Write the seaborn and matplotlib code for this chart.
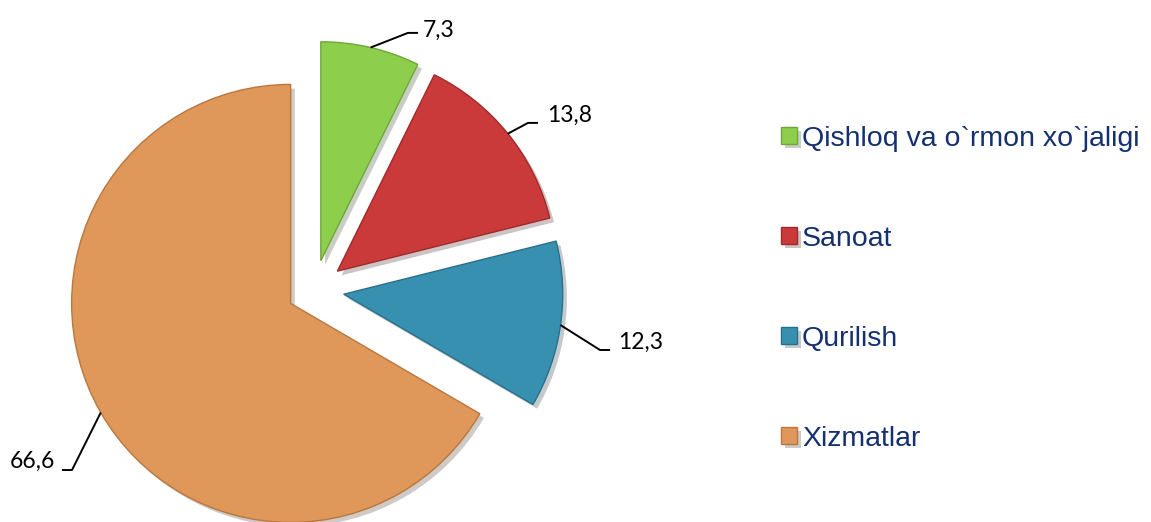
import numpy as np
import seaborn as sns
import matplotlib.pyplot as plt
from matplotlib import patheffects

# Sector shares (%)
categories = ['Qishloq va o`rmon xo`jaligi', 'Sanoat', 'Qurilish', 'Xizmatlar']
shares = [7.3, 13.8, 12.3, 66.6]
value_labels = ['7,3', '13,8', '12,3', '66,6']

slice_colors = ['#8DCF4C', '#CB3A3B', '#3890B1', '#E0975A']
edge_colors = ['#6FA836', '#9E2A2B', '#2A6F8A', '#B8773F']
explode = [0.137, 0.137, 0.137, 0.123]

# where the leader line bends and where the number sits (pie radius = 1)
elbows = [(0.429, 1.174), (0.977, 0.763), (1.306, -0.274), (-1.105, -0.822)]
text_pos = [(0.498, 1.187), (1.064, 0.799), (1.388, -0.237), (-1.183, -0.781)]

sns.set_theme(style='white')
plt.rcParams['font.family'] = ['Liberation Sans', 'DejaVu Sans']

fig = plt.figure(figsize=(11.51, 5.22), dpi=100)
lim = 2.2
r_px = 219
ax = fig.add_axes([(314 - r_px * lim) / 1151, (232 - r_px * lim) / 522,
                   2 * r_px * lim / 1151, 2 * r_px * lim / 522])

wedges, _ = ax.pie(shares, colors=slice_colors, startangle=90, counterclock=False,
                   explode=explode, radius=1,
                   wedgeprops=dict(linewidth=1.0))
for w, ec in zip(wedges, edge_colors):
    w.set_edgecolor(ec)
    w.set_path_effects([patheffects.SimplePatchShadow(offset=(3, -3), alpha=0.25),
                        patheffects.Normal()])

ax.set_xlim(-lim, lim)
ax.set_ylim(-lim, lim)
ax.set_aspect('equal')
ax.axis('off')

# leader lines + value labels
for w, lab, (ex, ey), (tx, ty) in zip(wedges, value_labels, elbows, text_pos):
    mid = np.deg2rad((w.theta1 + w.theta2) / 2)
    cx, cy = w.center
    sx, sy = cx + np.cos(mid), cy + np.sin(mid)
    side = 1 if tx > ex else -1
    ax.plot([sx, ex, ex + side * 0.046], [sy, ey, ey], color='black', lw=1.4,
            solid_capstyle='butt')
    ax.text(tx, ty, lab, ha='left' if side > 0 else 'right', va='center',
            fontsize=16.5, color='black', family=['Lato', 'DejaVu Sans'])

leg = fig.legend(wedges, categories, loc='center left',
                 bbox_to_anchor=(781 / 1151, 0.447), frameon=False,
                 fontsize=20.5, handlelength=0.56, handleheight=0.56,
                 handletextpad=0.18, labelspacing=2.6, borderpad=0,
                 borderaxespad=0)
for t in leg.get_texts():
    t.set_color('#14306E')

fig.savefig('out.png', dpi=100)
